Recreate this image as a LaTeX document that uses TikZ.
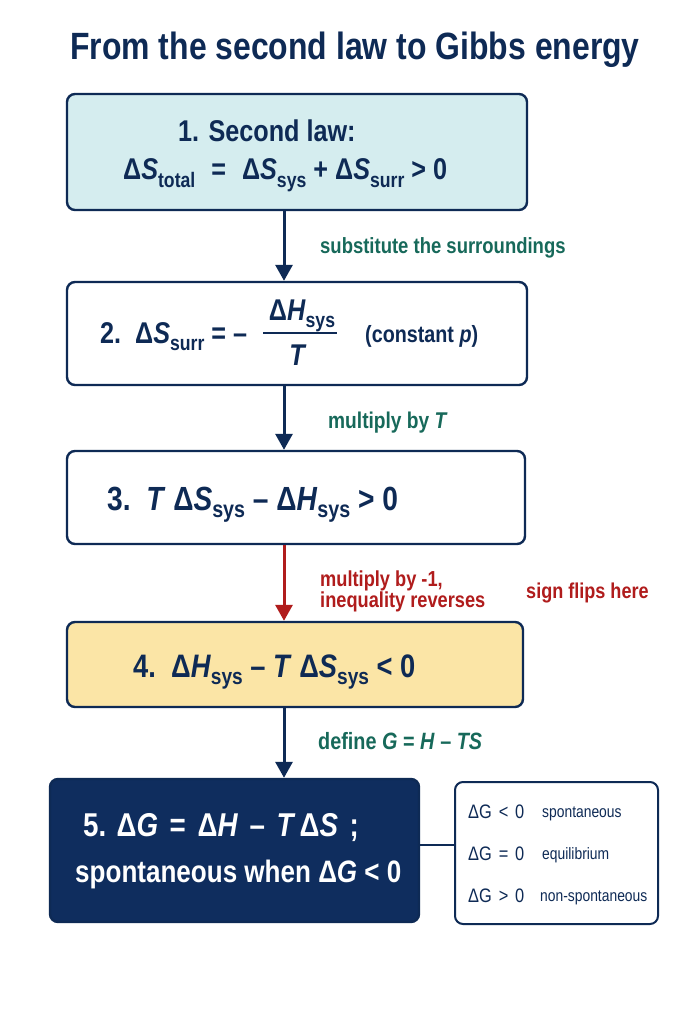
\documentclass[tikz,border=0pt]{standalone}
\usepackage{fontspec}
\setmainfont{Liberation Sans}[FakeStretch=0.84]
\usetikzlibrary{arrows.meta}
\definecolor{navy}{HTML}{0E2A55}
\definecolor{boxone}{HTML}{D5EDEF}
\definecolor{boxfour}{HTML}{FBE5A6}
\definecolor{boxfive}{HTML}{0F2D5E}
\definecolor{teal}{HTML}{17695A}
\definecolor{sred}{HTML}{B01C1C}
\newcommand\sbs[1]{\raisebox{-0.45ex}{\scalebox{0.70}{#1}}}
\newcommand\fs[1]{\fontsize{#1}{#1}\selectfont}
\newcommand\gp{\hspace{0.3em}}
\newcommand\sgp{\hspace{0.12em}}
\begin{document}
\begin{tikzpicture}[x=1pt,y=-1pt,
  box/.style={draw=navy,line width=2.4pt,rounded corners=8pt,inner sep=0pt},
  txt/.style={anchor=base west,inner sep=0pt,font=\bfseries\fs{30},text=navy},
  lbl/.style={anchor=base west,inner sep=0pt,font=\bfseries\fs{22},text=teal},
  arr/.style={draw=navy,line width=3pt,-{Triangle[width=17pt,length=16pt]}},
  side/.style={anchor=base west,inner sep=0pt,font=\fs{19.5},text=navy},
  sidew/.style={anchor=base west,inner sep=0pt,font=\fs{16.5},text=navy}]
\useasboundingbox (0,0) rectangle (683,1024);
\fill[white] (0,0) rectangle (683,1024);
% title
\node[anchor=base,inner sep=0pt,font=\bfseries\fs{38},text=navy] (title) at (355,60) {From the second law to Gibbs energy};
% boxes
\node[box,fill=boxone,minimum width=460pt,minimum height=116pt] (b1) at (297,152) {};
\node[box,fill=white,minimum width=460pt,minimum height=103pt] (b2) at (297,333.5) {};
\node[box,fill=white,minimum width=458pt,minimum height=93pt] (b3) at (296,497.5) {};
\node[box,fill=boxfour,minimum width=456pt,minimum height=85pt] (b4) at (295,664.5) {};
\node[box,fill=boxfive,minimum width=369pt,minimum height=143pt] (b5) at (234.5,850.5) {};
\node[box,fill=white,line width=2pt,minimum width=203pt,minimum height=142pt] (sb) at (556.5,853) {};
% arrows
\coordinate (ax) at (284,0);
\draw[arr] (b1.south -| ax) -- (b2.north -| ax);
\draw[arr] (b2.south -| ax) -- (b3.north -| ax);
\draw[arr,draw=sred] (b3.south -| ax) -- (b4.north -| ax);
\draw[arr] (b4.south -| ax) -- (b5.north -| ax);
\draw[navy,line width=2.4pt] (b5.east |- 0,845) coordinate (c5) -- (sb.west |- c5);
% box 1
\node[txt] (t1a) at (178,142) {1. Second law:};
\node[txt] (t1b) at (123,180) {Δ\textit{S}\sbs{total}\gp\ =\gp\ Δ\textit{S}\sbs{sys} + Δ\textit{S}\sbs{surr} > 0};
% box 2
\node[txt] (t2a) at (100,343) {2.\ \ Δ\textit{S}\sbs{surr} = –};
\node[txt,anchor=base] (t2n) at (302,320) {Δ\textit{H}\sbs{sys}};
\draw[navy,line width=2pt] (263,333) coordinate (fl) -- (337,333) coordinate (fr);
\node[txt,anchor=base] (t2d) at (298,365) {\textit{T}};
\node[txt,font=\bfseries\fs{23.5}] (t2c) at (365,342) {(constant \textit{p})};
% box 3
\node[txt,font=\bfseries\fs{33.5}] (t3) at (107,510) {3.\ \ \textit{T} Δ\textit{S}\sbs{sys} – Δ\textit{H}\sbs{sys} > 0};
% box 4
\node[txt,font=\bfseries\fs{32.5}] (t4) at (133,677) {4.\ \ Δ\textit{H}\sbs{sys} – \textit{T} Δ\textit{S}\sbs{sys} < 0};
% box 5
\node[txt,font=\bfseries\fs{33},text=white] (t5a) at (83,836) {5. Δ\textit{G}\sgp\ =\sgp\ Δ\textit{H}\sgp\ –\sgp\ \textit{T}\sgp Δ\textit{S}\sgp\ ;};
\node[txt,font=\bfseries\fs{31},text=white] (t5b) at (75,882) {spontaneous when Δ\textit{G} < 0};
% side box
\node[side] (s1) at (468,818) {ΔG\sgp\ <\sgp\ 0};
\node[sidew] (s1w) at (542,817) {spontaneous};
\node[side] (s2) at (468,860) {ΔG\sgp\ =\sgp\ 0};
\node[sidew] (s2w) at (542,859) {equilibrium};
\node[side] (s3) at (468,902) {ΔG\sgp\ >\sgp\ 0};
\node[sidew] (s3w) at (540,901) {non-spontaneous};
% labels
\node[lbl] (l1) at (320,253) {substitute the surroundings};
\node[lbl,font=\bfseries\fs{22.8}] (l2) at (328,428) {multiply by \textit{T}};
\node[lbl,text=sred,font=\bfseries\fs{21.7}] (l3a) at (320,586) {multiply by -1,};
\node[lbl,text=sred,font=\bfseries\fs{21.7}] (l3b) at (320,607) {inequality reverses};
\node[lbl,text=sred,font=\bfseries\fs{21.5}] (l3c) at (526,598) {sign flips here};
\node[lbl,font=\bfseries\fs{23.6}] (l4) at (318,749) {define \textit{G} = \textit{H} – \textit{TS}};
\end{tikzpicture}
\end{document}
